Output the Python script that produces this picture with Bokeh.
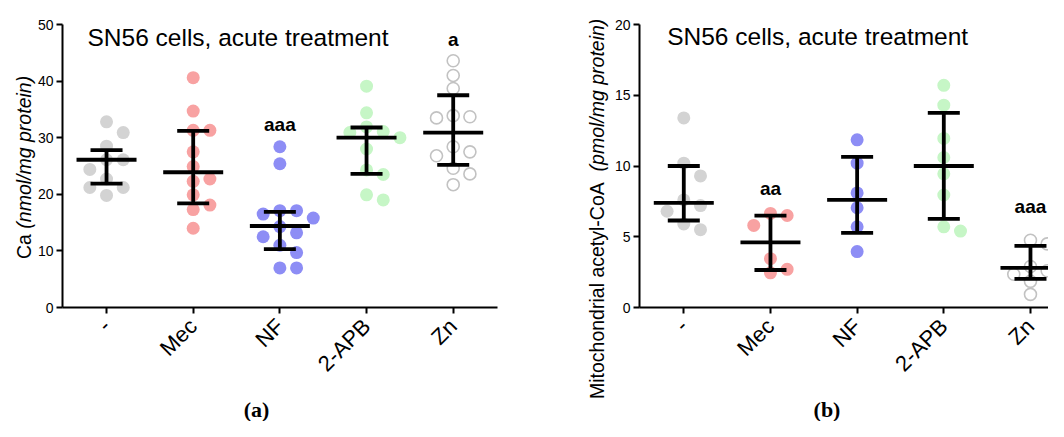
import math
from bokeh.plotting import figure
from bokeh.layouts import row
from bokeh.models import FixedTicker, Label
from bokeh.embed import file_html
from bokeh.resources import INLINE

# ---------------- data ----------------
categories = ["-", "Mec", "NF", "2-APB", "Zn"]

# panel (a): Ca (nmol/mg protein)
ctrl_a = [32.8, 30.9, 28.5, 26.1, 26.1, 24.4, 22.7, 21.2, 21.2, 19.8]
mec_a = [40.6, 34.7, 31.3, 31.3, 27.5, 24.9, 22.7, 22.3, 19.9, 18.1, 17.3, 14.0]
nf_a = [28.4, 25.4, 17.1, 17.1, 16.5, 15.8, 14.3, 13.2, 12.5, 11.0, 9.7, 7.0, 7.0]
apb_a = [39.1, 34.4, 31.9, 31.1, 30.9, 30.0, 28.0, 24.3, 23.5, 19.9, 19.0]
zn_a = [43.6, 41.0, 38.7, 33.9, 33.7, 33.5, 28.4, 27.5, 26.8, 24.6, 23.6, 21.7]
mean_a = [26.1, 23.9, 14.4, 30.0, 30.9]
upper_a = [27.8, 31.2, 16.9, 31.8, 37.5]
lower_a = [21.9, 18.4, 10.3, 23.6, 25.2]
sig_a = ["", "", "aaa", "", "a"]
sig_y_a = [0, 0, 32.4, 0, 47.4]

# panel (b): mitochondrial acetyl-CoA (pmol/mg protein)
ctrl_b = [13.4, 10.2, 9.3, 7.6, 7.2, 6.8, 5.9, 5.5]
mec_b = [6.65, 6.5, 5.8, 3.45, 2.7, 2.45]
nf_b = [11.85, 10.2, 8.1, 7.05, 5.7, 3.95]
apb_b = [15.7, 14.3, 11.95, 10.6, 9.45, 7.95, 5.7, 5.4]
zn_b = [4.75, 4.5, 2.9, 2.6, 2.35, 1.85, 0.93]
mean_b = [7.4, 4.6, 7.6, 10.0, 2.8]
upper_b = [10.0, 6.5, 10.65, 13.75, 4.36]
lower_b = [6.15, 2.65, 5.27, 6.27, 2.03]
sig_b = ["", "aa", "", "", "aaa"]
sig_y_b = [0, 8.4, 0, 0, 7.15]

title_text = "SN56 cells, acute treatment"

# ---------------- style ----------------
FILL = ["#d3d3d3", "#f8a2a2", "#8d8df5", "#c6f6c6", None]
OPEN_LINE = "#c2c2c2"
SANS = "Liberation Sans"
SERIF = "Liberation Serif"

# Arial / Liberation Sans advance widths (per 1000 em) for label placement
W = {" ": 278, "(": 333, ")": 333, "/": 278, "-": 333, "a": 556, "b": 556,
     "c": 500, "d": 556, "e": 556, "g": 556, "h": 556, "i": 222, "l": 222,
     "m": 833, "n": 556, "o": 556, "p": 556, "r": 333, "t": 278, "y": 500,
     "C": 722, "M": 833, "A": 667}


def text_w(s, size):
    return sum(W.get(ch, 556) for ch in s) * size / 1000.0


def swarm(vals, ppx, ppy, step_px=16.7, dmin=13.0):
    placed, offs = [], []
    cands = [0]
    for i in range(1, 6):
        cands += [i, -i]
    for v in vals:
        oy = v * ppy
        ox = 0.0
        for c in cands:
            ox = c * step_px
            if all((ox - px) ** 2 + (oy - py) ** 2 >= dmin ** 2 for px, py in placed):
                break
        placed.append((ox, oy))
        offs.append(ox / ppx)
    return offs


def make_panel(groups, means, lowers, uppers, sig, sig_y, y_end, y_step,
               ylab_main, ylab_unit, unit_side, width, bl, br, bt, bb, x0, x1,
               ylab_x, ylab_y, title_x, title_dy, cap_text, cap_x, cap_y):
    height = 421
    p = figure(width=width, height=height, x_range=(x0, x1), y_range=(0, y_end),
               output_backend="svg", toolbar_location=None, title=None,
               min_border_left=bl, min_border_right=br, min_border_top=bt,
               min_border_bottom=bb)
    p.outline_line_color = None
    p.xgrid.visible = False
    p.ygrid.visible = False
    p.background_fill_color = "white"
    p.border_fill_color = "white"

    fw = width - bl - br
    fh = height - bt - bb
    ppx = fw / (x1 - x0)
    ppy = fh / y_end

    for i, vals in enumerate(groups):
        offs = swarm(vals, ppx, ppy)
        xs = [i + 1 + o for o in offs]
        if FILL[i] is None:
            p.scatter(xs, vals, size=12, marker="circle", fill_color=None,
                      line_color=OPEN_LINE, line_width=1.6)
        else:
            p.scatter(xs, vals, size=13, marker="circle", fill_color=FILL[i],
                      line_color=None)

    xc = [i + 1 for i in range(len(means))]
    mhw = 30.0 / ppx
    chw = 16.0 / ppx
    lw = 3.8
    p.segment(xc, lowers, xc, uppers, line_color="black", line_width=lw)
    p.segment([x - mhw for x in xc], means, [x + mhw for x in xc], means,
              line_color="black", line_width=lw)
    p.segment([x - chw for x in xc], uppers, [x + chw for x in xc], uppers,
              line_color="black", line_width=lw)
    p.segment([x - chw for x in xc], lowers, [x + chw for x in xc], lowers,
              line_color="black", line_width=lw)

    for i, s in enumerate(sig):
        if s:
            p.add_layout(Label(x=i + 1, y=sig_y[i], text=s, text_align="center",
                               text_baseline="middle", text_font=SANS,
                               text_font_style="bold", text_font_size="19px",
                               text_color="black"))

    # axes
    for ax in (p.xaxis[0], p.yaxis[0]):
        ax.axis_line_width = 2
        ax.axis_line_color = "black"
        ax.major_tick_line_width = 2
        ax.major_tick_line_color = "black"
        ax.major_tick_out = 6
        ax.major_tick_in = 0
        ax.minor_tick_line_color = None
        ax.major_label_text_font = SANS
        ax.major_label_text_color = "black"
    p.xaxis.ticker = FixedTicker(ticks=xc)
    p.xaxis.major_label_overrides = {i + 1: c for i, c in enumerate(categories)}
    p.xaxis.major_label_orientation = math.pi / 4
    p.xaxis.major_label_text_font_size = "22px"
    p.xaxis.major_label_standoff = 9
    p.yaxis.ticker = FixedTicker(ticks=list(range(0, y_end + 1, y_step)))
    p.yaxis.major_label_text_font_size = "14px"
    p.yaxis.major_label_standoff = 3

    # y axis label: regular + italic parts (side panels, canvas coordinates)
    fs = 19.5
    p.add_layout(Label(x=ylab_x, y=ylab_y, x_units="canvas", y_units="canvas",
                       text=ylab_main, angle=math.pi / 2, text_align="left",
                       text_baseline="middle", text_font=SANS,
                       text_font_size=f"{fs}px", text_color="black"), "left")
    p.add_layout(Label(x=ylab_x, y=ylab_y - text_w(ylab_main, fs), x_units="canvas",
                       y_units="canvas", text=ylab_unit, angle=math.pi / 2,
                       text_align="left", text_baseline="middle", text_font=SANS,
                       text_font_style="italic", text_font_size=f"{fs}px",
                       text_color="black"), unit_side)

    # panel title (inside the frame)
    p.add_layout(Label(x=title_x, y=fh - title_dy, x_units="screen", y_units="screen",
                       text=title_text, text_align="left",
                       text_baseline="alphabetic", text_font=SANS,
                       text_font_size="24.5px", text_color="black"))
    # caption
    p.add_layout(Label(x=cap_x, y=cap_y, x_units="canvas", y_units="canvas",
                       text=cap_text, text_align="center", text_baseline="middle",
                       text_font=SERIF, text_font_style="bold",
                       text_font_size="22px", text_color="black"), "below")
    return p


pa = make_panel([ctrl_a, mec_a, nf_a, apb_a, zn_a], mean_a, lower_a, upper_a,
                sig_a, sig_y_a, 50, 10, "Ca ", "(nmol/mg protein)", "right",
                width=560, bl=62, br=63, bt=22, bb=114, x0=0.492, x1=5.511,
                ylab_x=23, ylab_y=258.5, title_x=25, title_dy=15,
                cap_text="(a)", cap_x=256, cap_y=409)

pb = make_panel([ctrl_b, mec_b, nf_b, apb_b, zn_b], mean_b, lower_b, upper_b,
                sig_b, sig_y_b, 20, 5, "Mitochondrial acetyl-CoA  ",
                "(pmol/mg protein)", "left",
                width=488, bl=79, br=0, bt=24, bb=111, x0=0.489, x1=5.208,
                ylab_x=36, ylab_y=398.5, title_x=27.7, title_dy=15,
                cap_text="(b)", cap_x=266.5, cap_y=409)

layout = row(pa, pb)
open("out.html", "w").write(file_html(layout, INLINE))
